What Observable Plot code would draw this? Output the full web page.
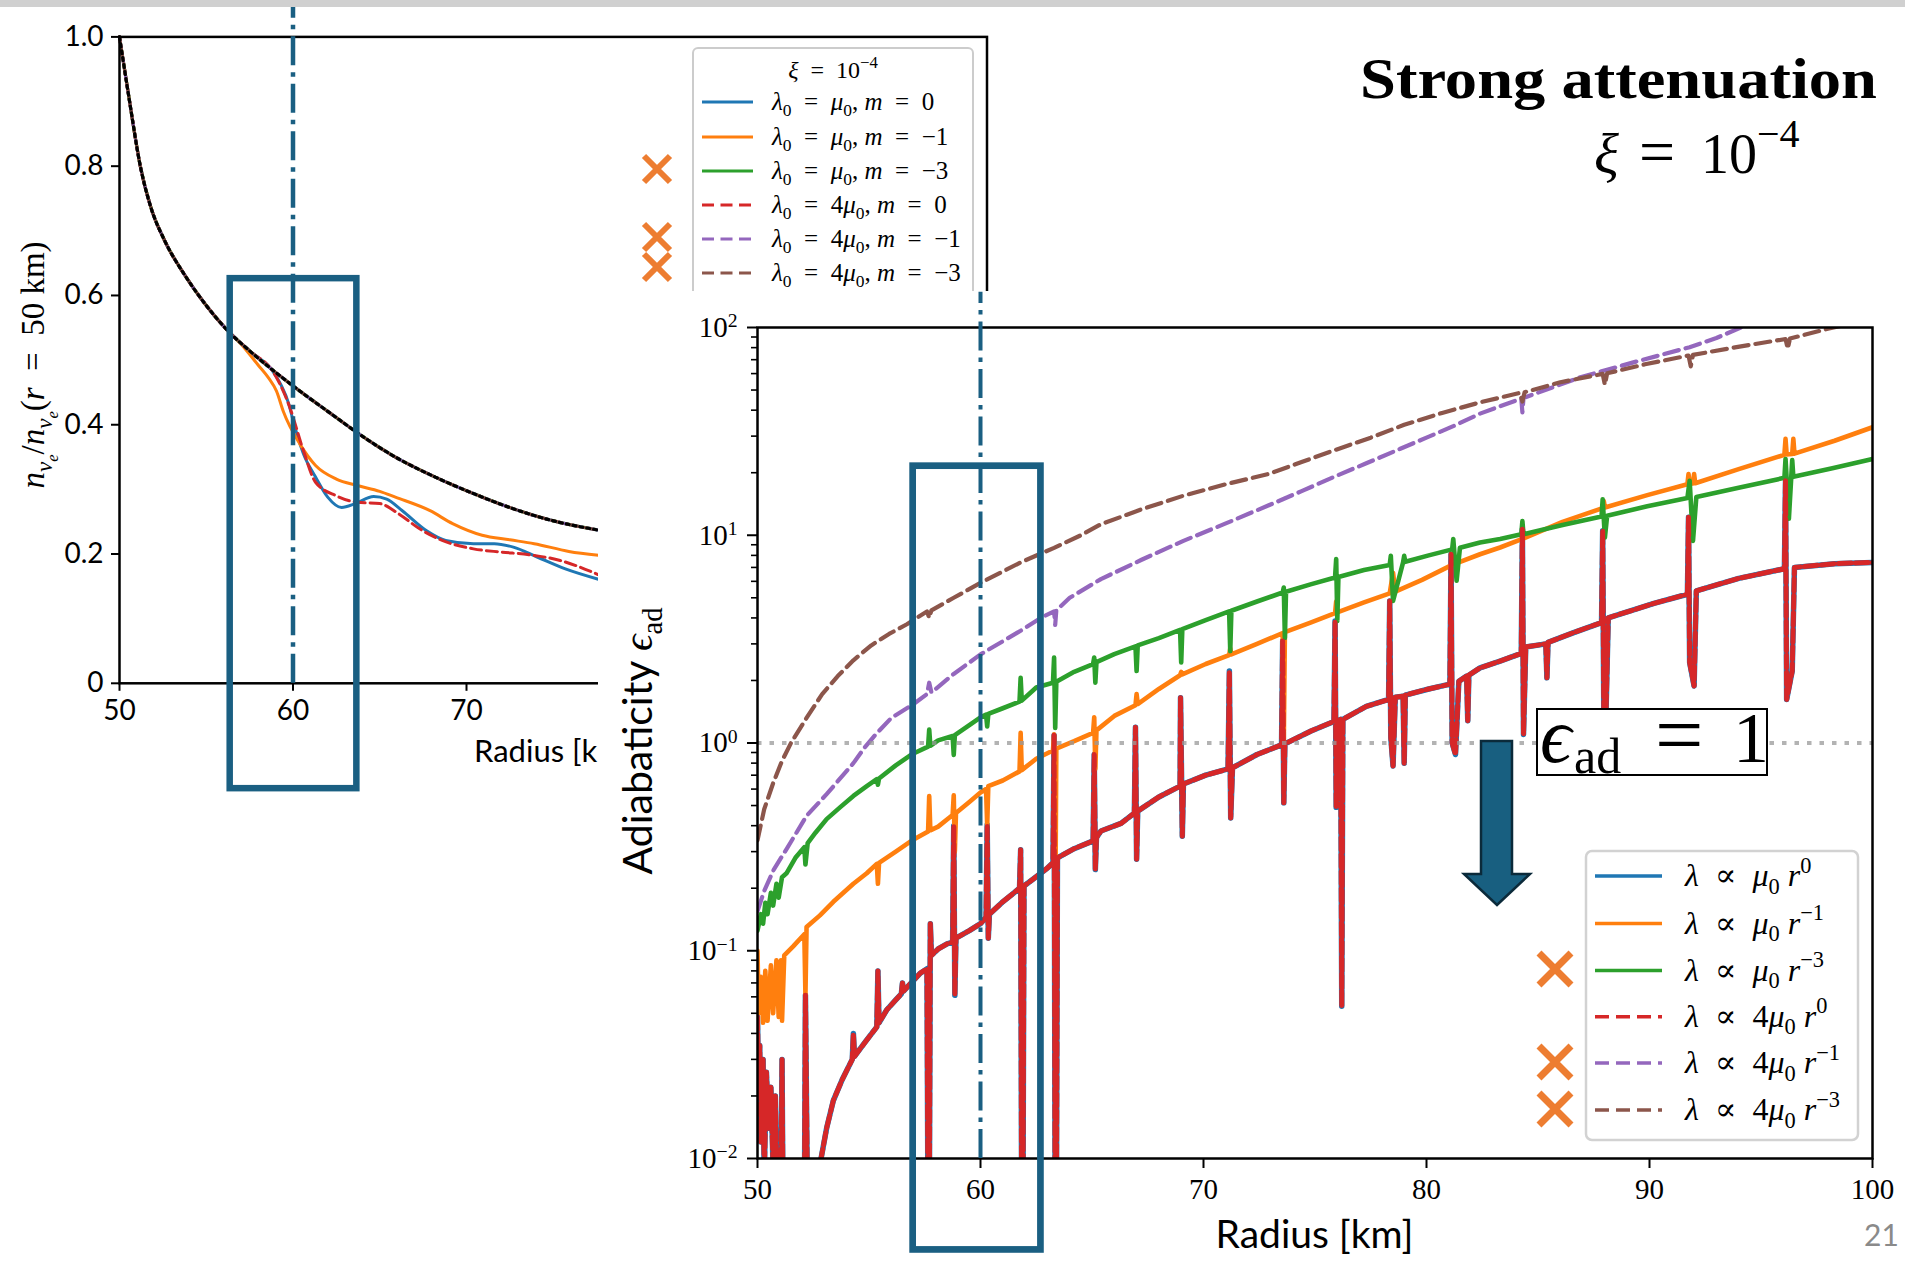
<!DOCTYPE html>
<html><head><meta charset="utf-8">
<script src="https://cdn.jsdelivr.net/npm/d3@7"></script>
<script src="https://cdn.jsdelivr.net/npm/@observablehq/plot@0.6"></script>
<style>
html,body{margin:0;padding:0;background:#fff;}
#page{position:relative;width:1905px;height:1263px;overflow:hidden;background:#fff;}
</style></head><body><div id="page"></div>
<script>
// ---------------- DATA ----------------
// Left panel: n_nue / n_nue(r = 50 km) vs radius [km]
const nHead = [[50,1.0],[50.57,0.902],[51.2,0.8],[51.8,0.737],[52.6,0.685],[53.75,0.632],[54.9,0.588],[56.15,0.548]];
const nNoAtten = nHead.concat([[57.6,0.512],[59.0,0.481],[60.4,0.452],[62.4,0.413],[63.74,0.387],[65.9,0.35],[68.2,0.319],[70.4,0.2935],[72.7,0.27],[74.9,0.252],[77.6,0.237]]);
const nOrangeTail = [[57.0,0.525],[58.0,0.492],[58.6,0.472],[59.05,0.452],[59.45,0.42],[60.4,0.37],[61.3,0.337],[62.5,0.316],[63.7,0.306],[65.0,0.297],[65.9,0.288],[67.9,0.267],[69.2,0.247],[70.9,0.229],[72.5,0.222],[73.9,0.216],[75.9,0.204],[77.6,0.198]];
const nBlueTail = [[57.6,0.512],[58.8,0.484],[59.3,0.462],[59.76,0.432],[60.0,0.407],[60.6,0.355],[61.3,0.319],[62.0,0.288],[62.8,0.272],[63.6,0.278],[64.65,0.289],[65.4,0.285],[66.3,0.267],[67.7,0.236],[68.8,0.221],[70.4,0.216],[71.6,0.216],[72.7,0.2106],[74.1,0.195],[75.7,0.177],[77.6,0.161]];
const nRedTail = [[57.6,0.512],[58.8,0.484],[59.3,0.46],[59.8,0.428],[60.6,0.36],[61.3,0.311],[62.5,0.29],[63.7,0.28],[65.0,0.278],[66.1,0.262],[67.3,0.239],[68.6,0.221],[70.4,0.208],[72.0,0.203],[73.6,0.199],[75.4,0.19],[77.6,0.168]];
const leftXTicks = [50,60,70];
const leftYTicks = [0,0.2,0.4,0.6,0.8,1.0];

// Right panel: adiabaticity eps_ad vs radius [km]
const adMu0_m0 = [[50.0,0.048],[50.05,0.02],[50.1,0.035],[50.15,0.012],[50.25,0.03],[50.3,0.008],[50.4,0.026],[50.5,0.014],[50.6,0.022],[50.7,0.009],[50.8,0.02],[50.9,0.005],[51.05,0.006],[51.1,0.03],[51.15,0.005],[51.7,0.005],[52.1,0.005],[52.15,0.061],[52.25,0.005],[52.75,0.006],[52.85,0.01],[53.1,0.014],[53.4,0.019],[53.8,0.024],[54.25,0.03],[54.3,0.04],[54.35,0.031],[54.8,0.036],[55.35,0.043],[55.4,0.08],[55.45,0.045],[55.8,0.052],[56.2,0.058],[56.45,0.062],[56.5,0.07],[56.55,0.064],[57.0,0.072],[57.3,0.078],[57.6,0.082],[57.65,0.004],[57.7,0.004],[57.75,0.135],[57.8,0.095],[58.1,0.102],[58.5,0.108],[58.75,0.11],[58.8,0.4],[58.85,0.061],[58.9,0.115],[59.5,0.125],[60.0,0.135],[60.25,0.145],[60.3,0.404],[60.35,0.115],[60.4,0.15],[61.0,0.172],[61.5,0.19],[61.75,0.2],[61.8,0.306],[61.85,0.004],[61.9,0.004],[61.95,0.205],[62.5,0.227],[63.0,0.25],[63.25,0.265],[63.3,1.09],[63.35,0.004],[63.4,0.004],[63.45,0.28],[64.2,0.31],[65.05,0.338],[65.1,0.88],[65.15,0.246],[65.2,0.35],[65.4,0.377],[66.3,0.41],[66.9,0.46],[66.95,1.19],[67.0,0.276],[67.05,0.47],[68.0,0.55],[68.95,0.62],[68.97,1.65],[69.05,0.356],[69.1,0.635],[70.1,0.7],[71.1,0.75],[71.16,2.22],[71.22,0.436],[71.3,0.76],[72.4,0.88],[73.5,0.98],[73.55,3.1],[73.6,0.515],[73.65,0.99],[74.8,1.14],[75.85,1.27],[75.9,3.87],[75.95,0.49],[76.05,1.28],[76.15,1.3],[76.2,0.054],[76.25,1.3],[77.3,1.5],[78.3,1.62],[78.35,4.83],[78.4,1.06],[78.5,0.775],[78.6,1.66],[78.95,1.68],[79.0,0.8],[79.05,1.7],[80.1,1.82],[81.05,1.92],[81.1,8.1],[81.15,1.0],[81.3,0.88],[81.45,1.98],[81.8,2.1],[81.85,1.28],[81.9,2.12],[82.4,2.3],[83.3,2.48],[84.25,2.7],[84.3,10.7],[84.35,1.1],[84.45,2.9],[85.35,3.0],[85.4,2.06],[85.45,3.05],[86.6,3.4],[87.85,3.8],[87.9,10.5],[87.95,1.45],[88.05,1.4],[88.15,4.0],[90.2,4.7],[91.7,5.2],[91.75,12.2],[91.8,2.44],[92.0,1.88],[92.1,5.4],[94.0,6.2],[96.05,6.9],[96.1,18.3],[96.15,1.62],[96.4,2.22],[96.5,7.0],[98.3,7.3],[100.0,7.4]];
const adMu0_m1 = [[50.0,0.1],[50.05,0.05],[50.15,0.075],[50.25,0.045],[50.35,0.08],[50.45,0.046],[50.6,0.085],[50.7,0.05],[50.85,0.09],[50.95,0.048],[51.05,0.09],[51.1,0.046],[51.2,0.095],[51.6,0.105],[52.1,0.12],[52.15,0.061],[52.2,0.13],[52.8,0.148],[53.4,0.172],[54.3,0.21],[54.9,0.236],[55.35,0.262],[55.4,0.21],[55.45,0.265],[56.2,0.3],[56.9,0.338],[57.65,0.375],[57.7,0.555],[57.75,0.38],[58.1,0.396],[58.75,0.45],[58.8,0.56],[58.85,0.3],[58.9,0.46],[59.5,0.52],[60.0,0.578],[60.25,0.6],[60.3,0.4],[60.35,0.62],[61.0,0.66],[61.75,0.73],[61.8,1.12],[61.85,0.74],[62.5,0.84],[63.25,0.92],[63.3,1.1],[63.35,0.13],[63.4,0.94],[64.2,1.02],[65.05,1.12],[65.1,1.33],[65.15,0.75],[65.2,1.15],[66.0,1.35],[66.95,1.52],[67.0,1.72],[67.05,1.54],[68.0,1.82],[68.95,2.12],[69.0,2.2],[69.05,2.14],[70.1,2.4],[71.15,2.65],[71.2,2.85],[71.25,2.67],[72.4,3.0],[73.55,3.38],[73.6,1.0],[73.65,3.42],[74.8,3.8],[75.9,4.22],[75.95,4.8],[76.0,4.25],[77.2,4.75],[78.35,5.25],[78.5,6.6],[78.6,5.35],[79.8,6.1],[81.15,7.2],[81.2,7.9],[81.3,7.3],[82.4,8.1],[83.3,8.73],[84.3,9.6],[86.1,11.6],[87.9,13.5],[87.95,14.6],[88.0,13.6],[89.9,15.6],[91.7,17.6],[91.75,19.7],[91.8,17.7],[91.95,17.75],[92.0,19.7],[92.05,17.8],[94.0,20.8],[96.05,24.4],[96.1,29.1],[96.15,24.5],[96.4,24.6],[96.45,29.1],[96.5,24.7],[98.3,28.5],[100.0,33.1]];
const adMu0_m3 = [[50.0,0.125],[50.15,0.15],[50.25,0.135],[50.35,0.17],[50.45,0.15],[50.6,0.19],[50.7,0.165],[50.85,0.21],[50.95,0.18],[51.1,0.226],[51.3,0.236],[51.7,0.28],[52.1,0.315],[52.15,0.26],[52.25,0.33],[52.6,0.37],[53.1,0.43],[53.7,0.49],[54.3,0.556],[54.9,0.62],[55.35,0.67],[55.4,0.63],[55.45,0.675],[56.2,0.78],[56.9,0.88],[57.65,0.96],[57.7,1.16],[57.75,0.97],[58.1,1.03],[58.75,1.08],[58.8,0.877],[58.85,1.09],[59.5,1.22],[60.0,1.33],[60.25,1.37],[60.3,1.2],[60.35,1.38],[61.0,1.47],[61.75,1.58],[61.8,2.06],[61.85,1.6],[62.5,1.85],[63.25,1.95],[63.3,2.58],[63.35,1.18],[63.4,1.97],[64.2,2.2],[65.05,2.4],[65.1,2.58],[65.15,1.95],[65.2,2.45],[66.0,2.68],[66.95,2.92],[67.0,2.22],[67.05,2.95],[68.0,3.2],[68.95,3.5],[69.0,2.44],[69.05,3.53],[70.1,3.9],[71.15,4.3],[71.2,2.77],[71.25,4.33],[72.4,4.8],[73.55,5.3],[73.6,5.6],[73.65,3.2],[73.7,5.35],[74.8,5.8],[75.9,6.26],[75.95,7.68],[76.0,3.87],[76.05,6.3],[77.2,6.8],[78.35,7.2],[78.4,7.96],[78.5,4.83],[78.95,7.4],[79.0,7.96],[79.05,7.45],[80.1,8.0],[81.15,8.55],[81.2,9.59],[81.35,6.04],[81.5,8.7],[82.4,9.23],[83.3,9.6],[84.25,10.1],[84.3,11.7],[84.35,10.1],[86.1,11.2],[87.85,12.3],[87.9,14.9],[88.0,9.75],[88.1,12.4],[89.9,13.8],[91.7,15.1],[91.8,18.3],[91.95,9.4],[92.1,15.3],[94.1,17.0],[96.05,18.9],[96.1,23.3],[96.25,12.0],[96.4,23.0],[96.45,19.1],[98.2,21.0],[100.0,23.3]];
const ad4Mu0_m0 = adMu0_m0; // the two curves coincide in the figure
const ad4Mu0_m1 = [[50.0,0.155],[50.3,0.194],[50.73,0.246],[51.33,0.312],[52.2,0.446],[53.1,0.567],[54.3,0.8],[54.8,0.95],[55.3,1.1],[56.0,1.32],[57.0,1.54],[57.6,1.72],[57.7,1.95],[57.8,1.75],[58.8,2.15],[60.0,2.67],[61.8,3.47],[62.7,4.0],[63.3,4.3],[63.35,3.7],[63.4,4.35],[64.0,5.0],[65.4,6.15],[67.2,7.6],[69.1,9.4],[71.0,11.4],[72.9,13.9],[74.4,16.3],[75.8,19.0],[77.3,22.2],[78.8,26.0],[80.0,29.5],[81.2,33.5],[82.4,38.5],[84.25,45.5],[84.3,39.0],[84.35,45.8],[86.9,57.6],[89.4,68.5],[91.8,80.4],[93.0,89.0],[94.1,100],[95.5,112]];
const ad4Mu0_m3 = [[50.0,0.34],[50.3,0.48],[50.7,0.64],[51.1,0.82],[51.5,1.0],[52.2,1.32],[52.9,1.72],[53.6,2.1],[54.3,2.5],[55.1,2.95],[55.9,3.35],[56.7,3.73],[57.6,4.3],[57.7,4.0],[57.8,4.35],[58.8,5.0],[60.0,5.9],[61.8,7.4],[63.3,8.7],[64.5,10.0],[65.4,11.3],[67.2,13.3],[69.1,15.5],[71.0,17.6],[72.9,19.7],[74.4,22.5],[75.8,25.5],[77.5,29.5],[79.0,34.0],[80.7,38.8],[82.4,43.6],[84.2,48.5],[84.3,44.0],[84.4,48.8],[86.0,54.5],[87.9,59.8],[88.0,53.0],[88.1,60.2],[89.8,66.5],[91.75,73.3],[91.85,65.0],[91.95,73.8],[93.9,80.5],[96.1,88.0],[96.2,79.0],[96.3,88.5],[98.0,98.6],[100.0,110]];
const rightXTicks = [50,60,70,80,90,100];
const rightYTicks = [0.01,0.1,1,10,100];
const rightYMinor = [0.02,0.03,0.04,0.05,0.06,0.07,0.08,0.09,0.2,0.3,0.4,0.5,0.6,0.7,0.8,0.9,2,3,4,5,6,7,8,9,20,30,40,50,60,70,80,90];

// Annotations (highlight boxes, marker radius, threshold)
const markerRadius = 60;
const boxLeft = [{r1: 56.38, r2: 63.68, v1: -0.163, v2: 0.626}];
const boxRight = [{r1: 56.98, r2: 62.71, v1: 0.00363, v2: 21.5}];
const adThreshold = 1;

// Legend labels
const leftLegendLambda = ["", "", "", "4", "4", "4"];
const leftLegendM = ["0","−1","−3","0","−1","−3"];
const rightLegendExp = ["0","−1","−3","0","−1","−3"];
const crossedOut = [false,false,true,false,true,true];

// ---------------- STYLE ----------------
const C = {blue:"#1f77b4", orange:"#ff7f0e", green:"#2ca02c", red:"#d62728", purple:"#9467bd", brown:"#8c564b"};
const seriesColors = [C.blue, C.orange, C.green, C.red, C.purple, C.brown];
const seriesDashed = [false,false,false,true,true,true];
const ANN = "#1a5f82";
const XMARK = "#ED7D31";
const SERIF = "'Liberation Serif','DejaVu Serif',serif";
const SANS = "Lato,'Open Sans',sans-serif";
const EN = "\u2002";
const page = document.getElementById("page");
const X = d => d[0], Y = d => d[1];

// ---------------- LEFT PLOT ----------------
const leftPlot = Plot.plot({
  width: 1000, height: 800,
  marginLeft: 119, marginRight: 13.5, marginTop: 36.4, marginBottom: 117.2,
  x: {domain: [50, 100]},
  y: {domain: [0, 1]},
  style: {fontFamily: SANS, fontSize: "28px", color: "black", background: "white"},
  marks: [
    Plot.line(nHead.concat(nBlueTail), {x: X, y: Y, stroke: C.blue, strokeWidth: 3, curve: "monotone-x"}),
    Plot.line(nHead.concat(nOrangeTail), {x: X, y: Y, stroke: C.orange, strokeWidth: 3, curve: "monotone-x"}),
    Plot.line(nNoAtten, {x: X, y: Y, stroke: C.green, strokeWidth: 3.2, curve: "monotone-x"}),
    Plot.line(nHead.concat(nRedTail), {x: X, y: Y, stroke: C.red, strokeWidth: 3, strokeDasharray: "11,5", curve: "monotone-x"}),
    Plot.line(nNoAtten, {x: X, y: Y, stroke: C.purple, strokeWidth: 3.2, strokeDasharray: "11,5", curve: "monotone-x"}),
    Plot.line(nNoAtten, {x: X, y: Y, stroke: C.brown, strokeWidth: 3.2, strokeDasharray: "11,5", strokeDashoffset: 5, curve: "monotone-x"}),
    Plot.line(nNoAtten, {x: X, y: Y, stroke: "black", strokeWidth: 3.2, strokeDasharray: "3,4", curve: "monotone-x"}),
    Plot.frame({strokeWidth: 2.5}),
    Plot.axisX({ticks: leftXTicks, tickSize: 8, tickPadding: 9, strokeWidth: 2, label: null, tickFormat: d => String(d)}),
    Plot.axisY({ticks: leftYTicks, tickSize: 8, tickPadding: 8, strokeWidth: 2, label: null, tickFormat: d => d === 0 ? "0" : d.toFixed(1)}),
    Plot.ruleX([markerRadius], {y1: 0, y2: 1.06, stroke: ANN, strokeWidth: 4.5, strokeDasharray: "29,7,4.5,7"}),
    Plot.rect(boxLeft, {x1: "r1", x2: "r2", y1: "v1", y2: "v2", fill: "none", stroke: ANN, strokeWidth: 6.5})
  ]
});
leftPlot.style.position = "absolute"; leftPlot.style.left = "0px"; leftPlot.style.top = "0px";
page.appendChild(leftPlot);

// ---------------- helpers ----------------
function layer() {
  const s = d3.create("svg").attr("width", 1905).attr("height", 1263)
    .style("position", "absolute").style("left", "0px").style("top", "0px").style("overflow", "visible");
  page.appendChild(s.node());
  return s;
}
const I = s => ({s, it: true}), R = s => ({s}), Sb = s => ({s, sub: true}), SbI = s => ({s, sub: true, it: true}),
      Sb2I = s => ({s, sub2: true, it: true}), Sp = s => ({s, sup: true});
function mtext(g, x, y, parts, o) {
  const size = o.size;
  const t = g.append("text").attr("x", x).attr("y", y).attr("font-size", size)
    .attr("font-family", o.font || SERIF).attr("text-anchor", o.anchor || "start")
    .attr("fill", o.fill || "#000").style("white-space", "pre");
  if (o.weight) t.attr("font-weight", o.weight);
  if (o.transform) t.attr("transform", o.transform);
  let cur = 0;
  for (const p of parts) {
    const ts = t.append("tspan").text(p.s);
    let off = 0, sc = 1;
    if (p.sub) { off = 0.24 * size; sc = 0.7; }
    if (p.sub2) { off = 0.42 * size; sc = 0.5; }
    if (p.sup) { off = -0.42 * size; sc = 0.7; }
    if (off !== cur) { ts.attr("dy", off - cur); cur = off; }
    if (sc !== 1) ts.attr("font-size", size * sc);
    if (p.it) ts.attr("font-style", "italic");
    if (p.font) ts.attr("font-family", p.font);
  }
  return t;
}
function xmark(g, cx, cy, h, w) {
  g.append("path").attr("d", `M${cx-h},${cy-h}L${cx+h},${cy+h}M${cx+h},${cy-h}L${cx-h},${cy+h}`)
    .attr("stroke", XMARK).attr("stroke-width", w).attr("fill", "none");
}
function swatch(g, x1, x2, y, i, w, dash) {
  g.append("line").attr("x1", x1).attr("x2", x2).attr("y1", y).attr("y2", y)
    .attr("stroke", seriesColors[i]).attr("stroke-width", w)
    .attr("stroke-dasharray", seriesDashed[i] ? dash : null);
}

// ---------------- LEFT OVERLAY (legend + labels) ----------------
const L = layer();
mtext(L, 0, 0, [I("n"), SbI("ν"), Sb2I("e"), R("/"), I("n"), SbI("ν"), Sb2I("e"), R("("), I("r"), R(EN + "=" + EN + "50 km)")],
  {size: 33, anchor: "middle", transform: "translate(44,365) rotate(-90)"});
L.append("text").attr("x", 552.7).attr("y", 762).attr("text-anchor", "middle").attr("font-family", SANS)
  .attr("font-size", 31).text("Radius [km]");
L.append("rect").attr("x", 693).attr("y", 48).attr("width", 280).attr("height", 270).attr("rx", 5)
  .attr("fill", "white").attr("stroke", "#cccccc").attr("stroke-width", 2);
mtext(L, 833, 78, [I("ξ"), R(EN + "=" + EN + "10"), Sp("−4")], {size: 24, anchor: "middle"});
const leftRows = [102, 137, 171, 205, 239, 273];
const leftXmarkY = [null, null, 169, null, 237, 267];
leftRows.forEach((y, i) => {
  swatch(L, 702, 753, y, i, 3, "12,6.5");
  const parts = [I("λ"), Sb("0"), R(EN + "=" + EN + leftLegendLambda[i]), I("μ"), Sb("0"), R(", "), I("m"), R(EN + "=" + EN + leftLegendM[i])];
  mtext(L, 772, y + 8, parts, {size: 25});
  if (crossedOut[i]) xmark(L, 657, leftXmarkY[i], 13, 6);
});

// ---------------- RIGHT PLOT ----------------
const rightPlot = Plot.plot({
  width: 1307, height: 972,
  marginLeft: 159, marginRight: 33, marginTop: 36, marginBottom: 105,
  x: {domain: [50, 100]},
  y: {type: "log", domain: [0.01, 100]},
  style: {fontFamily: SERIF, fontSize: "29px", color: "black", background: "white"},
  marks: [
    Plot.line(adMu0_m0, {x: X, y: Y, stroke: C.blue, strokeWidth: 5.5, clip: true}),
    Plot.line(adMu0_m1, {x: X, y: Y, stroke: C.orange, strokeWidth: 4.6, clip: true}),
    Plot.line(adMu0_m3, {x: X, y: Y, stroke: C.green, strokeWidth: 4.6, clip: true}),
    Plot.line(ad4Mu0_m0, {x: X, y: Y, stroke: C.red, strokeWidth: 5, strokeDasharray: "13,4", clip: true}),
    Plot.line(ad4Mu0_m1, {x: X, y: Y, stroke: C.purple, strokeWidth: 4.2, strokeDasharray: "15,7", clip: true}),
    Plot.line(ad4Mu0_m3, {x: X, y: Y, stroke: C.brown, strokeWidth: 4.2, strokeDasharray: "15,7", clip: true}),
    Plot.ruleY([adThreshold], {stroke: "#9a9a9a", strokeOpacity: 0.75, strokeWidth: 4.2, strokeDasharray: "4.5,8"}),
    Plot.frame({strokeWidth: 2.5}),
    Plot.axisX({ticks: rightXTicks, tickSize: 10, tickPadding: 10, strokeWidth: 2, label: null, tickFormat: d => String(d)}),
    Plot.axisY({ticks: rightYTicks, tickSize: 10, tickPadding: 10, strokeWidth: 2, label: null, tickFormat: d => String(Math.round(Math.log10(d)))}),
    Plot.axisY({ticks: rightYMinor, tickSize: 6, strokeWidth: 1.6, label: null, tickFormat: () => ""}),
    Plot.ruleX([markerRadius], {y1: 0.01, y2: 148, stroke: ANN, strokeWidth: 4, strokeDasharray: "29,7,4.5,7"}),
    Plot.rect(boxRight, {x1: "r1", x2: "r2", y1: "v1", y2: "v2", fill: "none", stroke: ANN, strokeWidth: 6.7})
  ]
});
rightPlot.style.position = "absolute"; rightPlot.style.left = "598px"; rightPlot.style.top = "291px";
page.appendChild(rightPlot);
d3.select(rightPlot).selectAll('g[aria-label="y-axis tick label"] text').each(function () {
  const e = this.textContent.trim();
  if (!e) return;
  const s = d3.select(this);
  s.text("10");
  s.append("tspan").attr("dy", "-0.48em").attr("font-size", "0.68em").text(e.replace("-", "−"));
});

// ---------------- TOP OVERLAY ----------------
const T = layer();
T.append("rect").attr("x", 0).attr("y", 0).attr("width", 1905).attr("height", 7).attr("fill", "#d0d0d0");
T.append("text").attr("x", 1360).attr("y", 98).attr("font-family", SERIF)
  .attr("font-weight", "bold").attr("font-size", 58).attr("textLength", 517).attr("lengthAdjust", "spacingAndGlyphs")
  .text("Strong attenuation");
T.append("text").attr("x", 1594).attr("y", 173).attr("font-family", SERIF).attr("font-size", 58).attr("font-style", "italic").text("ξ");
T.append("text").attr("x", 1639).attr("y", 173).attr("font-family", SERIF).attr("font-size", 64).text("=");
T.append("text").attr("x", 1701).attr("y", 173).attr("font-family", SERIF).attr("font-size", 56).text("10");
T.append("text").attr("x", 1757).attr("y", 147).attr("font-family", SERIF).attr("font-size", 40).text("−4");
T.append("text").attr("x", 1314.5).attr("y", 1248).attr("text-anchor", "middle").attr("font-family", SANS)
  .attr("font-size", 39).text("Radius [km]");
mtext(T, 0, 0, [{s: "Adiabaticity ", font: SANS}, I("ϵ"), Sb("ad")],
  {size: 41, anchor: "middle", transform: "translate(652,741) rotate(-90)"});
T.append("polygon").attr("points", "1481,741 1512,741 1512,874 1530,874 1497,905 1464,874 1481,874")
  .attr("fill", "#185f80").attr("stroke", "#0b2a3a").attr("stroke-width", 2.5).attr("stroke-linejoin", "miter");
T.append("rect").attr("x", 1537).attr("y", 709).attr("width", 230).attr("height", 66)
  .attr("fill", "white").attr("stroke", "black").attr("stroke-width", 2);
T.append("text").attr("x", 1540).attr("y", 762).attr("font-family", SERIF).attr("font-size", 78)
  .attr("font-style", "italic").text("ϵ");
T.append("text").attr("x", 1574).attr("y", 773).attr("font-family", SERIF).attr("font-size", 50).text("ad");
T.append("text").attr("x", 1655).attr("y", 764).attr("font-family", SERIF).attr("font-size", 86).text("=");
T.append("text").attr("x", 1733).attr("y", 762).attr("font-family", SERIF).attr("font-size", 72).text("1");
T.append("rect").attr("x", 1586).attr("y", 851).attr("width", 272).attr("height", 289).attr("rx", 6)
  .attr("fill", "white").attr("fill-opacity", 0.85).attr("stroke", "#d2d2d2").attr("stroke-width", 2.5);
const rightRows = [876, 923.5, 970.5, 1016.7, 1063, 1110];
const rightXmarkY = [null, null, 969, null, 1062, 1109];
rightRows.forEach((y, i) => {
  swatch(T, 1595, 1662, y, i, 3.6, "14,7");
  const four = i >= 3;
  mtext(T, 1685, y + 10, [I("λ"), R(EN + "∝" + EN + (four ? "4" : "")), I("μ"), Sb("0"), R(" "), I("r"), Sp(rightLegendExp[i])], {size: 32});
  if (crossedOut[i]) xmark(T, 1555, rightXmarkY[i], 16, 7);
});
T.append("text").attr("x", 1864).attr("y", 1246).attr("font-family", SANS).attr("font-size", 30)
  .attr("fill", "#8a8a8a").text("21");
</script></body></html>
